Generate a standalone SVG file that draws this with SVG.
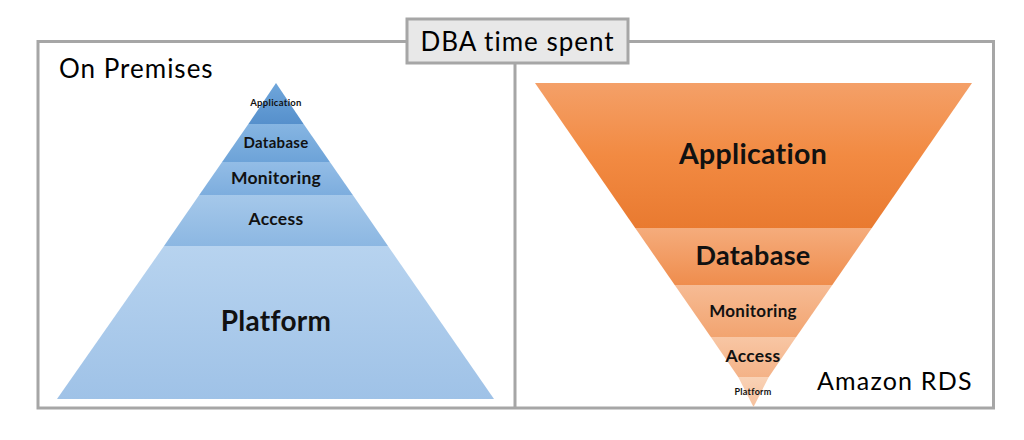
<svg xmlns="http://www.w3.org/2000/svg" width="1024" height="440" viewBox="0 0 1024 440">
<defs>
<style>
.frame{fill:none;stroke:#a6a6a6;stroke-width:3}
.t{font-family:Lato,"Open Sans",sans-serif;fill:#000}
.lbl{font-family:Lato,"Open Sans",sans-serif;font-weight:bold;fill:#111;text-anchor:middle;letter-spacing:0.3px}
</style>
<linearGradient id="bApp" x1="0" y1="0" x2="0" y2="1"><stop offset="0" stop-color="#6fa6db"/><stop offset="1" stop-color="#5690cc"/></linearGradient>
<linearGradient id="bDb" x1="0" y1="0" x2="0" y2="1"><stop offset="0" stop-color="#86b5e2"/><stop offset="1" stop-color="#6da3d8"/></linearGradient>
<linearGradient id="bMon" x1="0" y1="0" x2="0" y2="1"><stop offset="0" stop-color="#93bde6"/><stop offset="1" stop-color="#7dadde"/></linearGradient>
<linearGradient id="bAcc" x1="0" y1="0" x2="0" y2="1"><stop offset="0" stop-color="#a5c8ea"/><stop offset="1" stop-color="#8cb7e2"/></linearGradient>
<linearGradient id="bPlat" x1="0" y1="0" x2="0" y2="1"><stop offset="0" stop-color="#b7d3ef"/><stop offset="1" stop-color="#9fc2e7"/></linearGradient>
<linearGradient id="oApp" x1="0" y1="0" x2="0" y2="1"><stop offset="0" stop-color="#f4a068"/><stop offset="0.5" stop-color="#f28a42"/><stop offset="1" stop-color="#e97a30"/></linearGradient>
<linearGradient id="oDb" x1="0" y1="0" x2="0" y2="1"><stop offset="0" stop-color="#f5ac7c"/><stop offset="1" stop-color="#ef8d4d"/></linearGradient>
<linearGradient id="oMon" x1="0" y1="0" x2="0" y2="1"><stop offset="0" stop-color="#f6bb94"/><stop offset="1" stop-color="#f2a470"/></linearGradient>
<linearGradient id="oAcc" x1="0" y1="0" x2="0" y2="1"><stop offset="0" stop-color="#f8c6a4"/><stop offset="1" stop-color="#f4b287"/></linearGradient>
<linearGradient id="oPlat" x1="0" y1="0" x2="0" y2="1"><stop offset="0" stop-color="#f9d2b6"/><stop offset="1" stop-color="#f6c19d"/></linearGradient>
</defs>
<rect width="1024" height="440" fill="#fff"/>

<g id="frame">
<rect class="frame" x="38" y="41.5" width="955.5" height="366.5"/>
<line class="frame" x1="515" y1="63" x2="515" y2="408"/>
</g>

<g id="title">
<rect x="407" y="19" width="221" height="44" fill="#e8e8e8" stroke="#a6a6a6" stroke-width="3"/>
<text class="t" x="517.5" y="51" font-size="26" letter-spacing="1" text-anchor="middle">DBA time spent</text>
</g>

<g id="on-premises">
<text class="t" x="59" y="78" font-size="26" letter-spacing="1">On Premises</text>
<g id="l-application">
<polygon points="276,83 303.6,124 248.4,124" fill="url(#bApp)"/>
<text class="lbl" x="276" y="106" font-size="9.5">Application</text>
</g>
<g id="l-database">
<polygon points="248.4,124 303.6,124 329.9,162 222.1,162" fill="url(#bDb)"/>
<text class="lbl" x="276" y="148" font-size="15">Database</text>
</g>
<g id="l-monitoring">
<polygon points="222.1,162 329.9,162 352.8,195 199.2,195" fill="url(#bMon)"/>
<text class="lbl" x="276" y="184" font-size="17.5">Monitoring</text>
</g>
<g id="l-access">
<polygon points="199.2,195 352.8,195 388,246 164,246" fill="url(#bAcc)"/>
<text class="lbl" x="276" y="225" font-size="17.5">Access</text>
</g>
<g id="l-platform">
<polygon points="164,246 388,246 494,399 57,399" fill="url(#bPlat)"/>
<text class="lbl" x="276" y="331" font-size="28">Platform</text>
</g>
</g>

<g id="amazon-rds">
<text class="t" x="817" y="390" font-size="25" letter-spacing="1.2">Amazon RDS</text>
<g id="r-application">
<polygon points="535,83 972,83 871.8,228 635.2,228" fill="url(#oApp)"/>
<text class="lbl" x="753" y="164" font-size="28.5">Application</text>
</g>
<g id="r-database">
<polygon points="635.2,228 871.8,228 832.3,285 674.7,285" fill="url(#oDb)"/>
<text class="lbl" x="753" y="265" font-size="27">Database</text>
</g>
<g id="r-monitoring">
<polygon points="674.7,285 832.3,285 796.2,337 710.8,337" fill="url(#oMon)"/>
<text class="lbl" x="753" y="317" font-size="17">Monitoring</text>
</g>
<g id="r-access">
<polygon points="710.8,337 796.2,337 768.8,377 738.2,377" fill="url(#oAcc)"/>
<text class="lbl" x="753" y="362" font-size="17.5">Access</text>
</g>
<g id="r-platform">
<polygon points="738.2,377 768.8,377 753.5,407" fill="url(#oPlat)"/>
<text class="lbl" x="753" y="395" font-size="9">Platform</text>
</g>
</g>
</svg>
